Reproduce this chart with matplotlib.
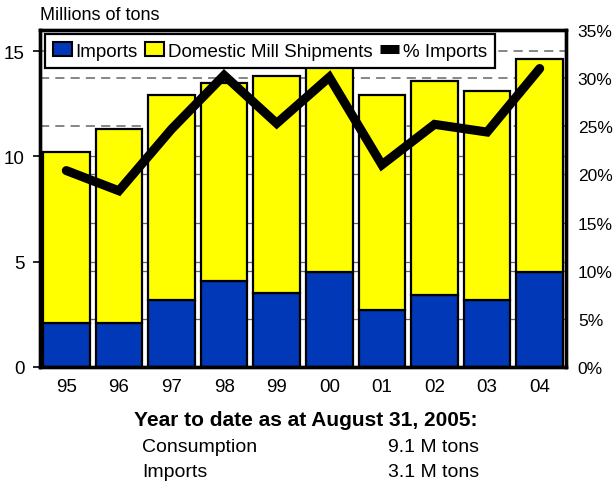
import numpy as np
import matplotlib.pyplot as plt
from matplotlib.patches import Patch
from matplotlib.lines import Line2D

plt.rcParams['font.family'] = ['Liberation Sans', 'DejaVu Sans']

# Steel consumption data, millions of tons
years = ['95', '96', '97', '98', '99', '00', '01', '02', '03', '04']
imports = [2.1, 2.1, 3.2, 4.1, 3.5, 4.5, 2.7, 3.4, 3.2, 4.5]
domestic = [8.1, 9.2, 9.7, 9.4, 10.3, 10.4, 10.2, 10.2, 9.9, 10.1]
pct_imports = [20.4, 18.3, 24.7, 30.3, 25.3, 30.1, 21.0, 25.2, 24.4, 31.0]

ytd_title = 'Year to date as at August 31, 2005:'
ytd_rows = [('Consumption', '9.1 M tons'), ('Imports', '3.1 M tons')]

BLUE = '#0038b8'
YELLOW = '#ffff00'
LMAX, RMAX = 16, 35

fig = plt.figure(figsize=(6.16, 4.89), dpi=100)
ax1 = fig.add_axes([40 / 616, 121 / 489, 526 / 616, 337 / 489])
ax2 = ax1.twinx()

x = np.arange(len(years))

# background grid lines, mostly hidden behind the bars
for v in [5, 10]:
    ax1.axhline(v, color='#666666', lw=0.9, zorder=0)
for p in [5, 10, 15, 20]:
    ax1.axhline(p * LMAX / RMAX, color='#666666', lw=0.9, zorder=0)
ax1.axhline(15, color='#666666', lw=1.1, ls=(0, (6, 4)), zorder=0)
for p in [25, 30]:
    ax1.axhline(p * LMAX / RMAX, color='#666666', lw=1.1, ls=(0, (6, 4)), zorder=0)

ax1.bar(x, imports, width=0.885, color=BLUE, edgecolor='black', lw=1.6, zorder=2)
ax1.bar(x, domestic, width=0.885, bottom=imports, color=YELLOW,
        edgecolor='black', lw=1.6, zorder=2)

ax2.plot(x, pct_imports, color='black', lw=6.5, solid_capstyle='round',
         solid_joinstyle='miter', zorder=3)

ax1.set_xlim(-0.5, len(years) - 0.5)
ax1.set_ylim(0, LMAX)
ax2.set_ylim(0, RMAX)
ax1.set_xticks(x)
ax1.set_xticklabels(years)
ax1.set_yticks([0, 5, 10, 15])
ax2.set_yticks(range(0, 36, 5))
ax2.set_yticklabels([f'{v}%' for v in range(0, 36, 5)])

ax1.tick_params(axis='x', length=0, pad=8, labelsize=13.5)
ax1.tick_params(axis='y', length=5, width=1.2, pad=6, labelsize=13.5)
ax2.tick_params(axis='y', length=0, pad=8.5, labelsize=12.5)

for ax in (ax1, ax2):
    for s in ax.spines.values():
        s.set_linewidth(2.4)

handles = [Patch(facecolor=BLUE, edgecolor='black', lw=1.5),
           Patch(facecolor=YELLOW, edgecolor='black', lw=1.5),
           Line2D([], [], color='black', lw=6.5, solid_capstyle='butt')]
leg = ax2.legend(handles, ['Imports', 'Domestic Mill Shipments', '% Imports'],
                 ncol=3, loc='upper left', bbox_to_anchor=(0.009, 0.988),
                 fontsize=13.5, frameon=True, fancybox=False, framealpha=1,
                 edgecolor='black', borderpad=0.45, handlelength=1.0,
                 handleheight=0.75, handletextpad=0.2, columnspacing=0.4,
                 borderaxespad=0)
leg.get_frame().set_linewidth(1.6)
leg.set_zorder(10)

fig.text(40 / 616, 1 - 15 / 489, 'Millions of tons', fontsize=13, va='center')

fig.text(306 / 616, 1 - 421 / 489, ytd_title, fontsize=15,
         fontweight='bold', ha='center', va='center')
for i, (name, val) in enumerate(ytd_rows):
    yy = 1 - (447 + 26 * i) / 489
    fig.text(142 / 616, yy, name, fontsize=14, va='center')
    fig.text(479 / 616, yy, val, fontsize=14, va='center', ha='right')

fig.savefig('out.png', dpi=100)
